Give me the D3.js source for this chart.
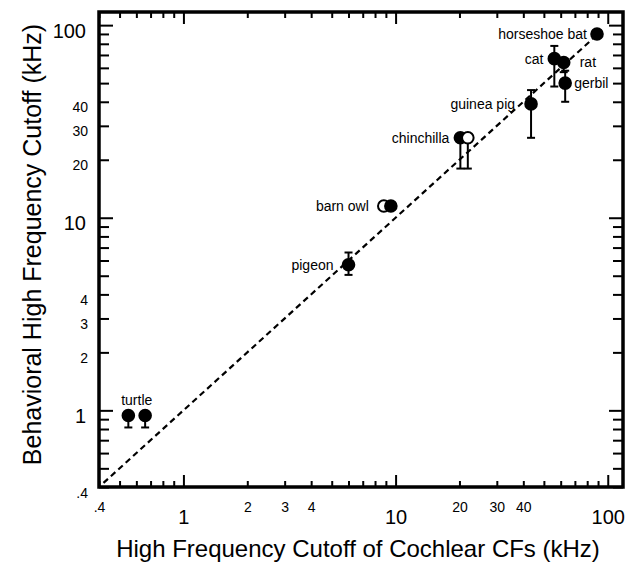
<!DOCTYPE html>
<html>
<head>
<meta charset="utf-8">
<script src="https://cdn.jsdelivr.net/npm/d3@7"></script>
<style>
  body { margin: 0; background: #fff; }
  svg text { font-family: "Liberation Sans", Arial, sans-serif; fill: #000; }
</style>
</head>
<body>
<svg id="chart" width="634" height="566"></svg>
<script>
// species, cochlear cutoff (x) and behavioral cutoff (y), kHz
var species   = ["turtle", "turtle", "pigeon", "barn owl", "barn owl", "chinchilla", "chinchilla",
                 "guinea pig", "cat", "rat", "gerbil", "horseshoe bat"];
var cochlear  = [0.55, 0.66, 6.0, 8.8, 9.5, 20.2, 21.9, 43.5, 56, 62, 63, 89];
var behavior  = [0.94, 0.94, 5.7, 11.5, 11.5, 26, 26, 39, 67, 64, 50, 90];
var errLow    = [0.815, 0.815, 5.05, 11.5, 11.5, 18, 18, 26, 48, 57, 40, 90];
var errHigh   = [0.94, 0.94, 6.6, 11.5, 11.5, 26, 26, 46, 78, 64, 58, 90];
var filled    = [true, true, true, false, true, true, false, true, true, true, true, true];

// label text and which point it belongs to
var labelText  = ["turtle", "pigeon", "barn owl", "chinchilla", "guinea pig", "cat", "rat", "gerbil", "horseshoe bat"];
var labelPoint = [0, 2, 3, 5, 7, 8, 9, 10, 11];

var majorTicks   = [1, 10, 100];
var minorTicks   = [0.4, 0.5, 0.6, 0.7, 0.8, 0.9, 2, 3, 4, 5, 6, 7, 8, 9, 20, 30, 40, 50, 60, 70, 80, 90];
var minorLabeled = [0.4, 2, 3, 4, 20, 30, 40];
var lineEnds     = [0.42, 90];

var margin = {top: 12, right: 11, bottom: 79, left: 99};
var svg = d3.select('#chart');
var W = +svg.attr('width'), H = +svg.attr('height');
var w = W - margin.left - margin.right, h = H - margin.top - margin.bottom;
var g = svg.append('g').attr('transform', 'translate(' + margin.left + ',' + margin.top + ')');

var x = d3.scaleLog().domain([0.4, 118]).range([0, w]);
var y = d3.scaleLog().domain([0.4, 117]).range([h, 0]);

var allTicks = minorTicks.concat(majorTicks).sort(d3.ascending);
var isMajor = function(v){ return majorTicks.indexOf(v) >= 0; };
var fmt = function(v){
    if (isMajor(v)) return String(v);
    if (minorLabeled.indexOf(v) >= 0) return v < 1 ? '.' + Math.round(v * 10) : String(v);
    return '';
};

// bottom axis with labels
var xb = g.append('g').attr('transform', 'translate(0,' + h + ')')
    .call(d3.axisBottom(x).tickValues(allTicks).tickSizeInner(-6).tickSizeOuter(0).tickPadding(0).tickFormat(fmt));
xb.selectAll('.tick line').attr('y2', function(d){ return isMajor(d) ? -12 : -6; }).attr('stroke-width', 2);
xb.selectAll('.tick text')
    .attr('y', function(d){ return isMajor(d) ? 37 : 25; })
    .attr('dy', 0)
    .style('font-size', function(d){ return isMajor(d) ? '20px' : '14px'; });

// top axis, ticks only
var xt = g.append('g')
    .call(d3.axisTop(x).tickValues(allTicks).tickSizeInner(-6).tickSizeOuter(0).tickFormat(''));
xt.selectAll('.tick line').attr('y2', function(d){ return isMajor(d) ? 12 : 6; }).attr('stroke-width', 2);

// left axis with labels
var yl = g.append('g')
    .call(d3.axisLeft(y).tickValues(allTicks).tickSizeInner(-10).tickSizeOuter(0).tickPadding(0).tickFormat(fmt));
yl.selectAll('.tick line').attr('x2', function(d){ return isMajor(d) ? 14 : 10; }).attr('stroke-width', 2);
yl.selectAll('.tick text')
    .attr('x', function(d){ return isMajor(d) ? -13 : -11; })
    .attr('dy', function(d){ return isMajor(d) ? '0.6em' : '0.7em'; })
    .style('font-size', function(d){ return isMajor(d) ? '20px' : '14px'; });
yl.selectAll('.tick text').filter(function(d){ return d === 0.4; }).attr('x', -11).attr('dy', '0.75em');

// right axis, ticks only
var yr = g.append('g').attr('transform', 'translate(' + w + ',0)')
    .call(d3.axisRight(y).tickValues(allTicks).tickSizeInner(-10).tickSizeOuter(0).tickFormat(''));
yr.selectAll('.tick line').attr('x2', function(d){ return isMajor(d) ? -14 : -10; }).attr('stroke-width', 2);

g.selectAll('.domain').remove();

g.append('rect')
    .attr('width', w).attr('height', h)
    .attr('fill', 'none').attr('stroke', '#000').attr('stroke-width', 3.5);

// diagonal y = x
g.append('line')
    .attr('x1', x(lineEnds[0])).attr('y1', y(lineEnds[0]))
    .attr('x2', x(lineEnds[1])).attr('y2', y(lineEnds[1]))
    .attr('stroke', '#000').attr('stroke-width', 2.2).attr('stroke-dasharray', '6,4');

// error bars
var idx = d3.range(species.length);
var cap = 4;
var eb = g.append('g').selectAll('g').data(idx).enter().append('g')
    .filter(function(i){ return errLow[i] !== errHigh[i]; });
eb.append('line')
    .attr('x1', function(i){ return x(cochlear[i]); }).attr('x2', function(i){ return x(cochlear[i]); })
    .attr('y1', function(i){ return y(errLow[i]); }).attr('y2', function(i){ return y(errHigh[i]); })
    .attr('stroke', '#000').attr('stroke-width', 2);
eb.append('line')
    .attr('x1', function(i){ return x(cochlear[i]) - cap; }).attr('x2', function(i){ return x(cochlear[i]) + cap; })
    .attr('y1', function(i){ return y(errLow[i]); }).attr('y2', function(i){ return y(errLow[i]); })
    .attr('stroke', '#000').attr('stroke-width', 2);
eb.append('line')
    .attr('x1', function(i){ return x(cochlear[i]) - cap; }).attr('x2', function(i){ return x(cochlear[i]) + cap; })
    .attr('y1', function(i){ return y(errHigh[i]); }).attr('y2', function(i){ return y(errHigh[i]); })
    .attr('stroke', '#000').attr('stroke-width', 2);

// points
g.append('g').selectAll('circle').data(idx).enter().append('circle')
    .attr('cx', function(i){ return x(cochlear[i]); })
    .attr('cy', function(i){ return y(behavior[i]); })
    .attr('r', 5.8)
    .attr('fill', function(i){ return filled[i] ? '#000' : '#fff'; })
    .attr('stroke', '#000').attr('stroke-width', 2);

// point labels: horizontal gap from point (negative = left, text ends there)
var labelDx = [0, -15, -15, -11, -16, -11, 16, 9, -10];
g.append('g').selectAll('text').data(labelText).enter().append('text')
    .text(function(d){ return d; })
    .attr('x', function(d, k){
        if (k === 0) return (x(cochlear[0]) + x(cochlear[1])) / 2;
        return x(cochlear[labelPoint[k]]) + labelDx[k];
    })
    .attr('y', function(d, k){
        var py = y(behavior[labelPoint[k]]);
        return k === 0 ? py - 11 : py + 5;
    })
    .attr('text-anchor', function(d, k){
        return k === 0 ? 'middle' : (labelDx[k] < 0 ? 'end' : 'start');
    })
    .style('font-size', '14px');

// axis titles
svg.append('text')
    .attr('x', margin.left + w / 2 - 3).attr('y', 557)
    .attr('text-anchor', 'middle').style('font-size', '24px')
    .text('High Frequency Cutoff of Cochlear CFs (kHz)');
svg.append('text')
    .attr('transform', 'translate(41,' + (margin.top + h / 2 - 5) + ') rotate(-90)')
    .attr('text-anchor', 'middle').style('font-size', '25px')
    .text('Behavioral High Frequency Cutoff (kHz)');
</script>
</body>
</html>
